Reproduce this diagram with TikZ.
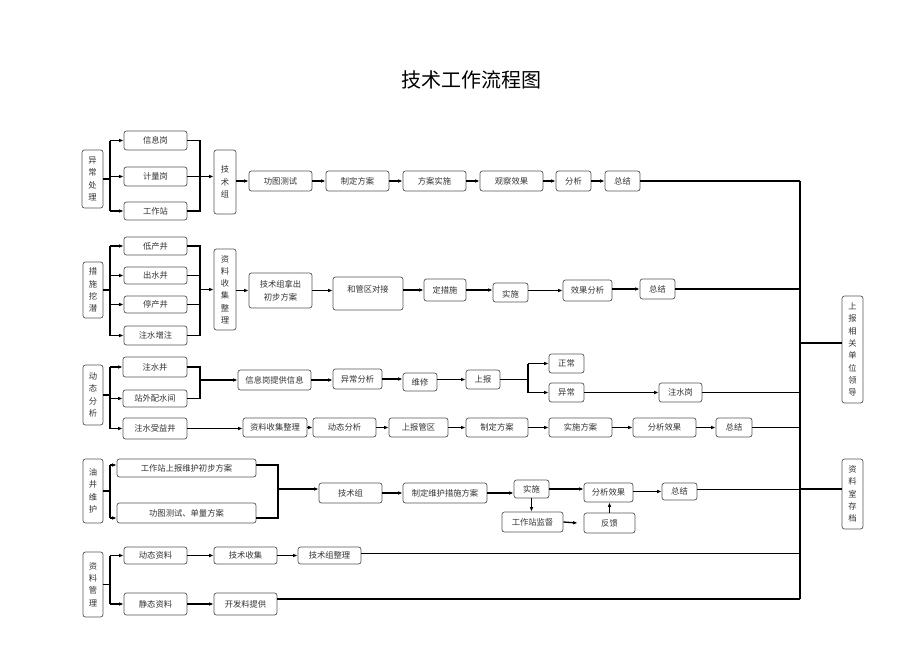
\documentclass[tikz,border=0pt]{standalone}
\usepackage{fontspec}
\setmainfont{Noto Sans CJK SC}
\usetikzlibrary{arrows.meta}
\definecolor{boxc}{HTML}{555555}
\definecolor{txtc}{HTML}{333333}
\tikzset{
  box/.style={draw=boxc, line width=0.7pt, rounded corners=2.5pt, inner sep=0pt, fill=white,
    text=txtc, font=\fontsize{8.3}{10}\selectfont},
  vbox/.style={box, align=center, font=\fontsize{8.3}{12.3}\selectfont},
  ln/.style={line width=1.3pt, black},
  arr/.style={ln, -{Latex[length=4.5pt,width=3.6pt]}},
}
\newcommand\mybox[6]{\node[box, minimum width=#4pt, minimum height=#5pt] (#1) at (#2,#3) {#6};}
\newcommand\myvbox[6]{\node[vbox, minimum width=#4pt, minimum height=#5pt] (#1) at (#2,#3) {#6};}
\begin{document}
\begin{tikzpicture}[x=1pt,y=-1pt]
\useasboundingbox (0,0) rectangle (920,650);
\fill[white] (0,0) rectangle (920,650);
\node[text=black, font=\fontsize{20}{24}\selectfont] (title) at (471,80) {技术工作流程图};

\coordinate (bx) at (110,0);
\coordinate (mx) at (200,0);
\coordinate (bus) at (800,0);

% ---------- Row 1
\myvbox{A1}{92.5}{179}{21}{58}{异\\常\\处\\理}
\mybox{A1a}{155.5}{140.5}{63}{19}{信息岗}
\mybox{A1b}{155.5}{176.5}{63}{19}{计量岗}
\mybox{A1c}{155.5}{211}{63}{18}{工作站}
\myvbox{T1}{225}{182}{22}{64}{技\\术\\组}
\mybox{r1a}{280.5}{181}{63}{20}{功图测试}
\mybox{r1b}{357.5}{181}{63}{20}{制定方案}
\mybox{r1c}{434.5}{181}{63}{20}{方案实施}
\mybox{r1d}{511.5}{181}{63}{20}{观察效果}
\mybox{r1e}{573.5}{181}{35}{20}{分析}
\mybox{r1f}{622.5}{181}{35}{20}{总结}

\draw[ln] (A1.east) -- (A1.east -| bx);
\draw[ln] (bx |- A1a) -- (bx |- A1c);
\foreach \n in {A1a,A1b,A1c} \draw[arr] (bx |- \n) -- (\n.west);
\draw[ln] (A1a.east) -- (A1a.east -| mx) -- (A1c.east -| mx) -- (A1c.east);
\draw[arr] (A1b.east) -- (A1b.east -| T1.west);
\draw[arr] (T1.east |- r1a) -- (r1a.west);
\draw[arr] (r1a.east) -- (r1b.west);
\draw[arr] (r1b.east) -- (r1c.west);
\draw[arr] (r1c.east) -- (r1d.west);
\draw[arr] (r1d.east) -- (r1e.west);
\draw[arr] (r1e.east) -- (r1f.west);
\draw[ln] (r1f.east) -- (r1f.east -| bus);

% ---------- Row 2
\myvbox{A2}{93}{290}{20}{56}{措\\施\\挖\\潜}
\mybox{A2a}{155.5}{246}{63}{18}{低产井}
\mybox{A2b}{155.5}{275.5}{63}{17}{出水井}
\mybox{A2c}{155.5}{304.5}{63}{17}{停产井}
\mybox{A2d}{155.5}{335.5}{63}{19}{注水增注}
\myvbox{T2}{225}{289.5}{22}{81}{资\\料\\收\\集\\整\\理}
\node[box, align=center, font=\fontsize{8.3}{13}\selectfont, minimum width=63pt, minimum height=35pt] (r2a) at (280.5,290.5) {技术组拿出\\初步方案};
\node[box, minimum width=70pt, minimum height=33pt, text depth=9pt] (r2b) at (368,293.5) {和管区对接};
\mybox{r2c}{445}{290}{42}{22}{定措施}
\node[box, minimum width=35pt, minimum height=19pt, text height=11pt] (r2d) at (510.5,292.5) {实施};
\mybox{r2e}{587.5}{290.5}{49}{21}{效果分析}
\mybox{r2f}{657.5}{289}{35}{20}{总结}

\draw[ln] (A2.east) -- (A2.east -| bx);
\draw[ln] (bx |- A2a) -- (bx |- A2d);
\foreach \n in {A2a,A2b,A2c,A2d} \draw[arr] (bx |- \n) -- (\n.west);
\draw[ln] (A2a.east) -- (A2a.east -| mx) -- (A2d.east -| mx) -- (A2d.east);
\draw[ln] (A2b.east) -- (A2b.east -| mx);
\draw[ln] (A2c.east) -- (A2c.east -| mx);
\draw[arr] (T2.west -| mx) -- (T2.west);
\draw[arr] (T2.east |- r2a) -- (r2a.west);
\draw[arr] (r2a.east) -- (r2a.east -| r2b.west);
\draw[arr] (r2b.east |- r2c) -- (r2c.west);
\draw[arr] (r2c.east) -- (r2c.east -| r2d.west);
\draw[arr] (r2d.east |- r2e) -- (r2e.west);
\draw[arr] (r2e.east |- r2f) -- (r2f.west);
\draw[ln] (r2f.east) -- (r2f.east -| bus);

% ---------- Row 3
\myvbox{A3}{93}{395}{20}{60}{动\\态\\分\\析}
\mybox{A3a}{155}{367}{64}{20}{注水井}
\mybox{A3b}{155}{398.5}{64}{17}{站外配水间}
\mybox{A3c}{155}{428.5}{64}{21}{注水受益井}
\mybox{r3a}{274.5}{380}{73}{20}{信息岗提供信息}
\mybox{r3b}{357.5}{379}{49}{20}{异常分析}
\mybox{r3c}{420}{382}{34}{18}{维修}
\mybox{r3d}{483}{379.5}{34}{19}{上报}
\mybox{r3n}{566.5}{363.5}{35}{19}{正常}
\mybox{r3x}{566.5}{392.5}{35}{19}{异常}
\mybox{r3z}{680.5}{392.5}{43}{19}{注水岗}
\coordinate (f3) at (528,0);

\draw[ln] (A3.east) -- (A3.east -| bx);
\draw[ln] (bx |- A3a) -- (bx |- A3c);
\foreach \n in {A3a,A3b,A3c} \draw[arr] (bx |- \n) -- (\n.west);
\draw[ln] (A3a.east) -- (A3a.east -| mx) -- (A3b.east -| mx) -- (A3b.east);
\draw[arr] (r3a.west -| mx) -- (r3a.west);
\draw[arr] (r3a.east) -- (r3a.east -| r3b.west);
\draw[arr] (r3b.east) -- (r3b.east -| r3c.west);
\draw[arr] (r3c.east |- r3d) -- (r3d.west);
\draw[ln] (r3d.east) -- (r3d.east -| f3);
\draw[ln] (f3 |- r3n) -- (f3 |- r3x);
\draw[arr] (f3 |- r3n) -- (r3n.west);
\draw[arr] (f3 |- r3x) -- (r3x.west);
\draw[arr] (r3x.east) -- (r3z.west);
\draw[ln] (r3z.east) -- (r3z.east -| bus);

% ---------- Row 3b
\mybox{r3e1}{275}{427.5}{64}{19}{资料收集整理}
\mybox{r3e2}{344.5}{427.5}{63}{19}{动态分析}
\mybox{r3e3}{418.5}{427.5}{59}{19}{上报管区}
\mybox{r3e4}{497}{427.5}{62}{19}{制定方案}
\mybox{r3e5}{580.5}{427.5}{63}{19}{实施方案}
\mybox{r3e6}{664.5}{427.5}{63}{19}{分析效果}
\mybox{r3e7}{734}{427.5}{36}{19}{总结}
\draw[arr] (A3c.east) -- (A3c.east -| r3e1.west);
\draw[arr] (r3e1.east) -- (r3e2.west);
\draw[arr] (r3e2.east) -- (r3e3.west);
\draw[arr] (r3e3.east) -- (r3e4.west);
\draw[arr] (r3e4.east) -- (r3e5.west);
\draw[arr] (r3e5.east) -- (r3e6.west);
\draw[arr] (r3e6.east) -- (r3e7.west);
\draw[ln] (r3e7.east) -- (r3e7.east -| bus);

% ---------- Row 4
\myvbox{A4}{93}{491}{20}{64}{油\\井\\维\\护}
\mybox{A4a}{186.5}{468}{139}{18}{工作站上报维护初步方案}
\mybox{A4b}{186.5}{513}{139}{20}{功图测试、单量方案}
\coordinate (m4) at (278,0);
\mybox{r4a}{350.5}{493}{63}{20}{技术组}
\mybox{r4b}{445}{493}{84}{20}{制定维护措施方案}
\mybox{r4c}{531.5}{489}{35}{18}{实施}
\mybox{r4d}{608.5}{492.5}{49}{19}{分析效果}
\mybox{r4e}{679.5}{491.5}{35}{17}{总结}
\mybox{r4g}{532.5}{522}{61}{20}{工作站监督}
\mybox{r4h}{609.5}{523}{51}{20}{反馈}

\draw[ln] (A4.east) -- (A4.east -| bx);
\draw[ln] ([yshift=3pt]bx |- A4a) -- ([yshift=-5pt]bx |- A4b);
\draw[arr] ([yshift=3pt]bx |- A4a) -- ([yshift=3pt]A4a.west);
\draw[arr] ([yshift=-5pt]bx |- A4b) -- ([yshift=-5pt]A4b.west);
\draw[ln] ([yshift=3pt]A4a.east) -- ([yshift=3pt]A4a.east -| m4) -- ([yshift=-5pt]A4b.east -| m4) -- ([yshift=-5pt]A4b.east);
\draw[arr] ([yshift=4pt]r4a.west -| m4) -- ([yshift=4pt]r4a.west);
\draw[arr] (r4a.east) -- (r4b.west);
\draw[arr] (r4b.east) -- (r4b.east -| r4c.west);
\draw[arr] (r4c.east) -- (r4c.east -| r4d.west);
\draw[arr] (r4d.east |- r4e) -- (r4e.west);
\draw[ln] ([yshift=2pt]r4e.east) -- ([yshift=2pt]r4e.east -| bus);
\draw[arr] (r4c.south) -- (r4c.south |- r4g.north);
\draw[arr] (r4g.east) -- ([xshift=-6pt]r4h.west);
\draw[arr] (r4h.north) -- (r4h.north |- r4d.south);

% ---------- Row 5
\myvbox{A5}{93}{584.5}{20}{65}{资\\料\\管\\理}
\mybox{A5a}{155.5}{555.5}{63}{17}{动态资料}
\mybox{A5b}{155.5}{604}{63}{22}{静态资料}
\mybox{r5a2}{245.5}{555.5}{63}{17}{技术收集}
\mybox{r5a3}{329.5}{555.5}{63}{17}{技术组整理}
\mybox{r5b2}{245.5}{604}{63}{22}{开发料提供}

\draw[ln] (A5.east) -- (A5.east -| bx);
\draw[ln] (bx |- A5a) -- (bx |- A5b);
\foreach \n in {A5a,A5b} \draw[arr] (bx |- \n) -- (\n.west);
\draw[arr] (A5a.east) -- (r5a2.west);
\draw[arr] (r5a2.east) -- (r5a3.west);
\draw[arr] (A5b.east) -- (r5b2.west);
\draw[ln] ([yshift=2pt]r5a3.east) -- ([yshift=2pt]r5a3.east -| bus);
\draw[ln] ([yshift=5pt]r5b2.east) -- ([yshift=5pt]r5b2.east -| bus);

% ---------- Bus and right side
\draw[ln] (r1f.east -| bus) -- ([yshift=5pt]r5b2.east -| bus);
\myvbox{R1}{852.5}{349.5}{21}{107}{上\\报\\相\\关\\单\\位\\领\\导}
\myvbox{R2}{852.5}{494}{21}{70}{资\\料\\室\\存\\档}
\draw[ln] ([yshift=6.5pt]R1.west -| bus) -- ([yshift=6.5pt]R1.west);
\draw[ln] ([yshift=5pt]R2.west -| bus) -- ([yshift=5pt]R2.west);
\end{tikzpicture}
\end{document}
